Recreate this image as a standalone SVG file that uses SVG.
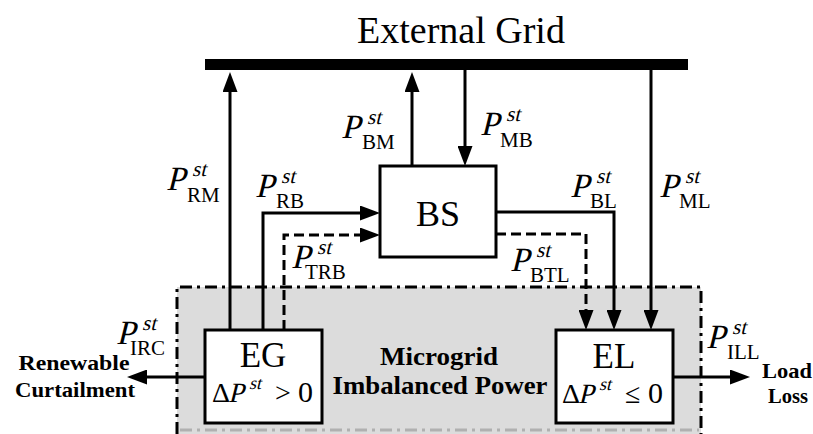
<svg xmlns="http://www.w3.org/2000/svg" width="813" height="434" viewBox="0 0 813 434" font-family="'Liberation Serif', 'Times New Roman', Times, serif">
<style>
.box{fill:#fff;stroke:#000;stroke-width:3}
.ln{fill:none;stroke:#000;stroke-width:3}
.dash{stroke-dasharray:10 5}
.P{font-size:34px}
.s{font-size:21px}
.bold{font-weight:bold}
</style>
<defs>
<marker id="ah" markerUnits="userSpaceOnUse" markerWidth="20" markerHeight="15" refX="12" refY="7.5" orient="auto">
<path d="M0,0 L20,7.5 L0,15 z" fill="#000"/>
</marker>
</defs>

<g id="microgrid-region">
<rect x="177" y="287" width="524" height="147" fill="#dcdcdc"/>
<path d="M177,434 V287 H701 V434" fill="none" stroke="#000" stroke-width="3" stroke-dasharray="12 5 3 5"/>
<path d="M180,430 H699" fill="none" stroke="#b0b0b0" stroke-width="3" stroke-dasharray="12 5 3 5"/>
<text class="bold" x="439" y="365" font-size="25" text-anchor="middle" textLength="118" lengthAdjust="spacingAndGlyphs">Microgrid</text>
<text class="bold" x="440" y="394" font-size="25" text-anchor="middle" textLength="215" lengthAdjust="spacingAndGlyphs">Imbalanced Power</text>
</g>

<g id="external-grid">
<text x="461" y="43" font-size="38" text-anchor="middle">External Grid</text>
<rect x="205" y="59" width="483" height="11" fill="#000"/>
</g>

<g id="connectors">
<path class="ln" d="M230,330 V80" marker-end="url(#ah)"/>
<path class="ln" d="M412,166 V80" marker-end="url(#ah)"/>
<path class="ln" d="M465,70 V158" marker-end="url(#ah)"/>
<path class="ln" d="M651,70 V322" marker-end="url(#ah)"/>
<path class="ln" d="M263,330 V213 H372" marker-end="url(#ah)"/>
<path class="ln dash" d="M284,330 V235 H372" marker-end="url(#ah)"/>
<path class="ln" d="M496,212 H614 V322" marker-end="url(#ah)"/>
<path class="ln dash" d="M496,234 H586 V322" marker-end="url(#ah)"/>
<path class="ln" d="M205,377 H135" marker-end="url(#ah)"/>
<path class="ln" d="M673,377 H742" marker-end="url(#ah)"/>

<g transform="translate(166,190)"><text class="P" transform="skewX(-14)">P</text><text class="s" transform="translate(26,-14) skewX(-14)">st</text><text class="s" x="21" y="12">RM</text></g>
<g transform="translate(341,138)"><text class="P" transform="skewX(-14)">P</text><text class="s" transform="translate(26,-14) skewX(-14)">st</text><text class="s" x="21" y="11">BM</text></g>
<g transform="translate(255,197)"><text class="P" transform="skewX(-14)">P</text><text class="s" transform="translate(26,-14) skewX(-14)">st</text><text class="s" x="21" y="11">RB</text></g>
<g transform="translate(291,268)"><text class="P" transform="skewX(-14)">P</text><text class="s" transform="translate(26,-14) skewX(-14)">st</text><text class="s" x="14" y="11">TRB</text></g>
<g transform="translate(480,135)"><text class="P" transform="skewX(-14)">P</text><text class="s" transform="translate(26,-14) skewX(-14)">st</text><text class="s" x="20" y="12">MB</text></g>
<g transform="translate(570,197)"><text class="P" transform="skewX(-14)">P</text><text class="s" transform="translate(26,-14) skewX(-14)">st</text><text class="s" x="20" y="11">BL</text></g>
<g transform="translate(659,197)"><text class="P" transform="skewX(-14)">P</text><text class="s" transform="translate(26,-14) skewX(-14)">st</text><text class="s" x="20" y="11">ML</text></g>
<g transform="translate(510,271)"><text class="P" transform="skewX(-14)">P</text><text class="s" transform="translate(26,-14) skewX(-14)">st</text><text class="s" x="20" y="11">BTL</text></g>
<g transform="translate(116,344)"><text class="P" transform="skewX(-14)">P</text><text class="s" transform="translate(26,-14) skewX(-14)">st</text><text class="s" x="14" y="11">IRC</text></g>
<g transform="translate(706,348)"><text class="P" transform="skewX(-14)">P</text><text class="s" transform="translate(26,-14) skewX(-14)">st</text><text class="s" x="21" y="11">ILL</text></g>

<text class="bold" x="74" y="370" font-size="22" text-anchor="middle" textLength="111" lengthAdjust="spacingAndGlyphs">Renewable</text>
<text class="bold" x="75" y="397" font-size="22" text-anchor="middle" textLength="120" lengthAdjust="spacingAndGlyphs">Curtailment</text>
<text class="bold" x="787" y="378" font-size="22" text-anchor="middle" textLength="50" lengthAdjust="spacingAndGlyphs">Load</text>
<text class="bold" x="788" y="403" font-size="22" text-anchor="middle" textLength="40" lengthAdjust="spacingAndGlyphs">Loss</text>
</g>

<g id="BS">
<rect class="box" x="380" y="166" width="116" height="91"/>
<text x="438" y="226" font-size="36" text-anchor="middle">BS</text>
</g>

<g id="EG">
<rect class="box" x="205" y="330" width="117" height="93"/>
<text x="263" y="367" font-size="35" text-anchor="middle">EG</text>
<text x="212" y="402" font-size="28">Δ</text>
<text font-size="28" transform="translate(228,402) skewX(-14)">P</text>
<text font-size="18" transform="translate(249,389) skewX(-14)">st</text>
<text x="275" y="402" font-size="28">&gt;</text>
<text x="298" y="402" font-size="30">0</text>
</g>

<g id="EL">
<rect class="box" x="556" y="330" width="117" height="93"/>
<text x="614" y="368" font-size="35" text-anchor="middle">EL</text>
<text x="562" y="403" font-size="28">Δ</text>
<text font-size="28" transform="translate(578,403) skewX(-14)">P</text>
<text font-size="18" transform="translate(599,390) skewX(-14)">st</text>
<text x="625" y="403" font-size="28">≤</text>
<text x="648" y="403" font-size="30">0</text>
</g>
</svg>
